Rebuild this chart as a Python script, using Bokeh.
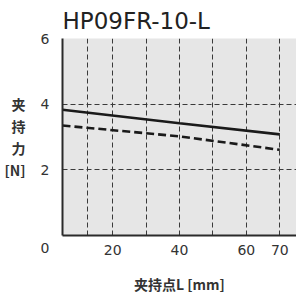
from bokeh.plotting import figure
from bokeh.models import Range1d, FixedTicker, ColumnDataSource
from bokeh.embed import file_html
from bokeh.resources import INLINE

# data
title_text = "HP09FR-10-L"
x_pos = [5, 40, 70]
force_solid = [3.83, 3.42, 3.08]
force_dashed = [3.35, 3.02, 2.61]
x_ticks = [20, 40, 60, 70]
x_grid = [12.5, 20, 30, 40, 50, 60, 70]
y_ticks = [0, 2, 4, 6]
y_tick_labels = {0: "\n0", 2: "2", 4: "4", 6: "6"}
y_grid = [2, 4, 6]
y_label = "夹\n持\n力\n[N]"
x_label = "夹持点L [mm]"

p = figure(width=296, height=296, output_backend="svg", toolbar_location=None,
           x_range=Range1d(5, 75), y_range=Range1d(0, 6),
           min_border_left=62, min_border_right=0, min_border_top=38, min_border_bottom=57)
p.background_fill_color = "#e6e6e6"
p.border_fill_color = "white"
p.outline_line_color = None

p.title.text = title_text
p.title.text_font = "DejaVu Sans"
p.title.text_font_size = "23px"
p.title.text_font_style = "normal"
p.title.text_color = "#222222"
p.title.align = "left"
p.title.standoff = 9

for ax in (p.xaxis[0], p.yaxis[0]):
    ax.axis_line_color = "#2a2a2a"
    ax.axis_line_width = 2
    ax.major_tick_line_color = None
    ax.minor_tick_line_color = None
    ax.major_label_text_font = "DejaVu Sans"
    ax.major_label_text_font_size = "14px"
    ax.major_label_text_color = "#333333"
    ax.axis_label_text_font = "Noto Sans CJK SC"
    ax.axis_label_text_font_size = "14px"
    ax.axis_label_text_font_style = "bold"
    ax.axis_label_text_color = "#333333"

p.xaxis.ticker = FixedTicker(ticks=x_ticks)
p.yaxis.ticker = FixedTicker(ticks=y_ticks)
p.yaxis.major_label_overrides = y_tick_labels
p.yaxis.major_label_text_line_height = 1.6
p.xaxis.major_label_standoff = 3
p.yaxis.major_label_standoff = 7

p.xaxis.axis_label = x_label
p.xaxis.axis_label_standoff = 16
p.yaxis.axis_label = y_label
p.yaxis.axis_label_orientation = "horizontal"
p.yaxis.axis_label_text_line_height = 1.1
p.yaxis.axis_label_standoff = 12

p.xgrid.ticker = FixedTicker(ticks=x_grid)
p.ygrid.ticker = FixedTicker(ticks=y_grid)
for g in (p.xgrid[0], p.ygrid[0]):
    g.grid_line_color = "#3a3a3a"
    g.grid_line_width = 1
    g.grid_line_dash = "5 3"

src = ColumnDataSource(dict(x=x_pos, s=force_solid, d=force_dashed))
p.line("x", "s", source=src, line_color="#1a1a1a", line_width=2.6)
p.line("x", "d", source=src, line_color="#1a1a1a", line_width=2.6, line_dash="8 4")

open("out.html", "w").write(file_html(p, INLINE))
